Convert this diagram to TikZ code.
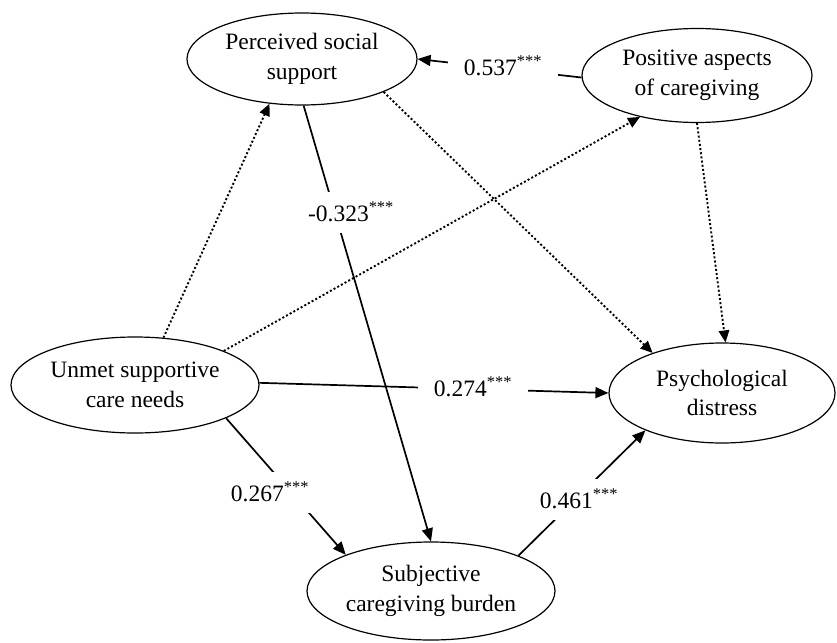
\documentclass[tikz,border=0pt]{standalone}
\usepackage{fontspec}
\setmainfont{Liberation Serif}
\usetikzlibrary{shapes.geometric,arrows.meta}
\begin{document}
\begin{tikzpicture}[x=1pt,y=-1pt,
  var/.style={ellipse,draw,line width=1.2pt,inner sep=0pt,align=center,
    font=\fontsize{23.5}{29.5}\selectfont},
  lab/.style={fill=white,inner xsep=16pt,inner ysep=0pt,minimum height=41pt,
    font=\fontsize{23.5}{28}\selectfont},
  sol/.style={line width=1.7pt,-{Triangle[length=13pt,width=11pt]}},
  dot/.style={line width=1.9pt,dash pattern=on 2pt off 2.2pt,-{Triangle[length=12pt,width=10.5pt]}}]
\useasboundingbox (0,0) rectangle (837,642);
\node[var,minimum width=230pt,minimum height=92pt] (P) at (302,59) {Perceived social\\support};
\node[var,minimum width=230pt,minimum height=94pt] (A) at (697,75.5) {Positive aspects\\of caregiving};
\node[var,minimum width=248pt,minimum height=96pt] (U) at (135,385) {Unmet supportive\\care needs};
\node[var,minimum width=226pt,minimum height=100pt] (D) at (722,393) {Psychological\\distress};
\node[var,minimum width=248pt,minimum height=98pt] (S) at (431,591) {Subjective\\caregiving burden};
% dotted paths
\draw[dot] (U.59.7) -- (P.-126.5);
\draw[dot] (U.21.7) -- (A.216.6);
\draw[dot] (P.-22.9) -- (D.150.3);
\draw[dot] (A.-90) -- (D.86.6);
% solid paths
\draw[sol] (A.181.2) -- (P.0.5);
\draw[sol] (P.-88.8) -- (S.90);
\draw[sol] (U.1.9) -- (D.180);
\draw[sol] (U.-20.8) -- (S.157.7);
\draw[sol] (S.22) -- (D.-154);
% labels
\node[lab] (l1) at (503,66) {0.537\textsuperscript{***}};
\node[lab] (l2) at (351,212) {-0.323\textsuperscript{***}};
\node[lab] (l3) at (473,387) {0.274\textsuperscript{***}};
\node[lab] (l4) at (270,492) {0.267\textsuperscript{***}};
\node[lab] (l5) at (579,499) {0.461\textsuperscript{***}};
\end{tikzpicture}
\end{document}
